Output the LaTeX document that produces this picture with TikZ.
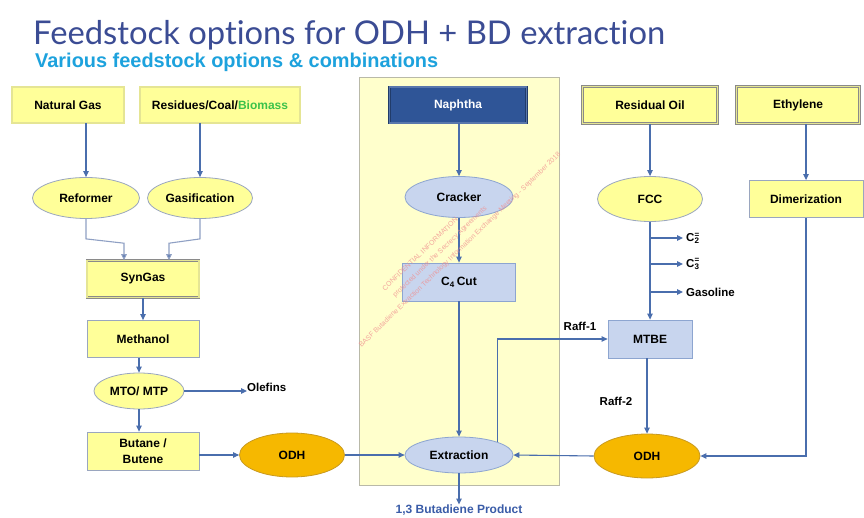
\documentclass[tikz,border=0pt]{standalone}
\usepackage{fontspec}
\setmainfont{Liberation Sans}
\newfontfamily\titlefont{Lato}[Ligatures={NoCommon}]
\usetikzlibrary{shapes.geometric,arrows.meta,calc}
\definecolor{ybox}{HTML}{FFFF99}
\definecolor{ybord}{HTML}{9AA6BF}
\definecolor{bevel}{HTML}{8A8A8A}
\definecolor{lbox}{HTML}{C8D5EE}
\definecolor{lbord}{HTML}{8DA5D0}
\definecolor{odhfill}{HTML}{F6B800}
\definecolor{odhbord}{HTML}{C99A20}
\definecolor{panelfill}{HTML}{FFFFCC}
\definecolor{panelbord}{HTML}{B9B9A8}
\definecolor{napfill}{HTML}{2F5597}
\definecolor{lineblue}{HTML}{4A6EAD}
\definecolor{lightline}{HTML}{8FA0C4}
\definecolor{titleblue}{HTML}{3B4C94}
\definecolor{subblue}{HTML}{1DA2DD}
\definecolor{bdblue}{HTML}{3A5CA8}
\definecolor{greenbio}{HTML}{3CC24A}
\definecolor{wmred}{HTML}{F09090}
\begin{document}
\begin{tikzpicture}[x=1pt,y=-1pt,
  every node/.style={font=\bfseries\fontsize{12}{14}\selectfont, inner sep=0pt, align=center},
  bevelbox/.style={rectangle, fill=ybox, draw=bevel, line width=0.6pt, double=ybox!80!gray, double distance=1.6pt},
  plainbox/.style={rectangle, fill=ybox, draw=ybord, line width=0.8pt},
  bluebox/.style={rectangle, fill=lbox, draw=lbord, line width=0.8pt},
  yell/.style={ellipse, fill=ybox, draw=ybord, line width=0.8pt},
  blell/.style={ellipse, fill=lbox, draw=lbord, line width=0.8pt},
  odhell/.style={ellipse, fill=odhfill, draw=odhbord, line width=0.8pt},
  arr/.style={draw=lineblue, line width=1.1pt, -{Triangle[length=6pt,width=5.5pt]}},
  arrl/.style={draw=lightline, line width=1.1pt, -{Triangle[length=6pt,width=5.5pt,fill=lineblue]}},
  lbl/.style={font=\bfseries\fontsize{11.5}{13}\selectfont},
  wm/.style={text=wmred, opacity=0.8, font=\fontsize{7}{8}\selectfont, rotate=44}
]
\useasboundingbox (0,0) rectangle (864,518);
\fill[white] (0,0) rectangle (864,518);

% titles
\node[anchor=base west, text=titleblue, font=\titlefont\fontsize{34}{38}\selectfont] (title) at (33,45)
  {\resizebox{632pt}{!}{Feedstock options for ODH + BD extraction}};
\node[anchor=base west, text=subblue, font=\bfseries\fontsize{18}{20}\selectfont] (sub) at (35,68)
  {\resizebox{403pt}{!}{Various feedstock options \& combinations}};

% central panel
\node[rectangle, fill=panelfill, draw=panelbord, line width=0.8pt, minimum width=200pt, minimum height=408pt] (panel) at (459,281) {};

% left column
\node[bevelbox, minimum width=112pt, minimum height=36pt] (ng) at (68,105) {Natural Gas};
\node[bevelbox, minimum width=160pt, minimum height=36pt] (res) at (220,105) {Residues/Coal/\textcolor{greenbio}{Biomass}};
\node[yell, minimum width=107pt, minimum height=41pt] (ref) at (86,198) {Reformer};
\node[yell, minimum width=105pt, minimum height=41pt] (gas) at (200,198) {Gasification};
\node[bevelbox, minimum width=112pt, minimum height=37pt] (syn) at (143,279) {SynGas};
\node[plainbox, minimum width=112pt, minimum height=37pt] (meth) at (143,339) {Methanol};
\node[yell, minimum width=90pt, minimum height=36pt] (mto) at (139,391) {MTO/ MTP};
\node[lbl, anchor=west] (ole) at (247,387) {Olefins};
\node[plainbox, minimum width=112pt, minimum height=38pt, font=\bfseries\fontsize{12}{16}\selectfont] (but) at (143,451) {Butane /\\Butene};
\node[odhell, minimum width=105pt, minimum height=44pt] (odha) at (292,455) {ODH};

% middle column
\node[rectangle, fill=napfill, draw=napfill!70!black, line width=0.6pt, double=napfill!80!white, double distance=1.4pt,
      minimum width=137pt, minimum height=36pt, text=white] (nap) at (458,105) {Naphtha};
\node[blell, minimum width=108pt, minimum height=41pt] (crk) at (459,197) {Cracker};
\node[bluebox, minimum width=113pt, minimum height=38pt] (c4) at (459,282) {C\textsubscript{4}\,Cut};
\node[blell, minimum width=108pt, minimum height=36pt] (ext) at (459,455) {Extraction};
\node[text=bdblue, font=\bfseries\fontsize{12}{14}\selectfont] (bd) at (459,510) {1,3 Butadiene Product};

% right columns
\node[bevelbox, minimum width=135pt, minimum height=37pt] (ro) at (650,105) {Residual Oil};
\node[yell, minimum width=105pt, minimum height=45pt] (fcc) at (650,199) {FCC};
\node[lbl, anchor=west] (c2) at (686,238) {C\rlap{\textsubscript{2}}\textsuperscript{=}};
\node[lbl, anchor=west] (c3) at (686,264) {C\rlap{\textsubscript{3}}\textsuperscript{=}};
\node[lbl, anchor=west] (gasl) at (686,292) {Gasoline};
\node[bluebox, minimum width=84pt, minimum height=38pt] (mtbe) at (650,339) {MTBE};
\node[odhell, minimum width=106pt, minimum height=44pt] (odhb) at (647,456) {ODH};
\node[bevelbox, minimum width=123pt, minimum height=37pt] (eth) at (798,105) {Ethylene};
\node[plainbox, minimum width=114pt, minimum height=37pt] (dim) at (806,199) {Dimerization};
\node[lbl] (r1) at (580,326) {Raff-1};
\node[lbl] (r2) at (616,401) {Raff-2};

% connectors left
\draw[arr] (ref.north |- ng.south) -- (ref.north);
\draw[arr] (gas.north |- res.south) -- (gas.north);
\draw[arrl] (ref.south) -- ++(0,20) -- ($(syn.north)+(-19,-17)$) -- ([xshift=-19pt]syn.north);
\draw[arrl] (gas.south) -- ++(0,20) -- ($(syn.north)+(26,-17)$) -- ([xshift=26pt]syn.north);
\draw[arr] (syn.south) -- (meth.north);
\draw[arr] (mto.north |- meth.south) -- (mto.north);
\draw[arr] (mto.east) -- (mto.east -| ole.west);
\draw[arr] (mto.south) -- (mto.south |- but.north);
\draw[arr] (but.east |- odha.west) -- (odha.west);
\draw[arr] (odha.east) -- (ext.west);

% connectors middle
\draw[arr] (crk.north |- nap.south) -- (crk.north);
\draw[arr] (crk.south) -- (c4.north);
\draw[arr] (c4.south) -- (ext.north);
\draw[arr] (ext.south) -- (bd.north);
\draw[arr] (ext.north east) |- (mtbe.west);

% connectors right
\draw[arr] (fcc.north |- ro.south) -- (fcc.north);
\draw[arr] (fcc.south) -- (mtbe.north);
\draw[arr] (fcc.south |- c2.west) -- ([xshift=-3pt]c2.west);
\draw[arr] (fcc.south |- c3.west) -- ([xshift=-3pt]c3.west);
\draw[arr] (fcc.south |- gasl.west) -- ([xshift=-3pt]gasl.west);
\draw[arr] (mtbe.south -| odhb.north) -- (odhb.north);
\draw[arr] (odhb.west) -- (ext.east);
\draw[arr] (dim.north |- eth.south) -- (dim.north);
\draw[arr] (dim.south) |- (odhb.east);

% watermark
\node[wm] (wm1) at (420,254) {CONFIDENTIAL INFORMATION};
\node[wm] (wm2) at (440,252) {protected under the Secrecy Agreements};
\node[wm] (wm3) at (460,250) {BASF Butadiene Extraction Technology Information Exchange Meeting - September 2018};
\end{tikzpicture}
\end{document}
